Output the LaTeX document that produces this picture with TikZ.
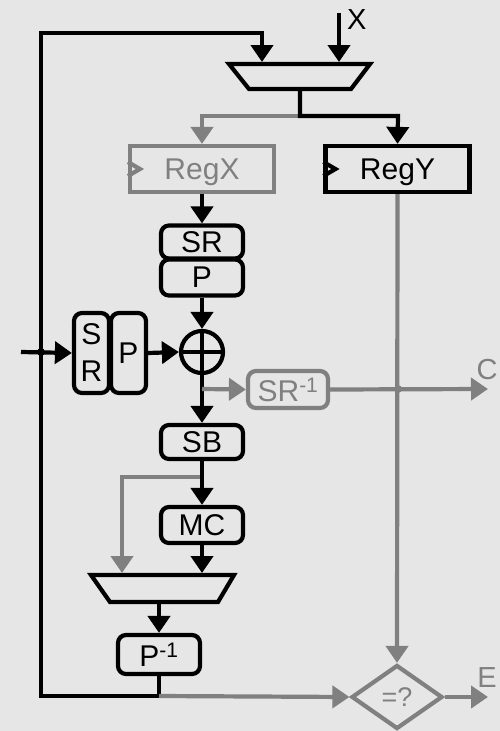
\documentclass[tikz,border=0pt]{standalone}
\usepackage{fontspec}
\setmainfont{Liberation Sans}
\usetikzlibrary{arrows.meta,shapes.geometric,calc}
\definecolor{bg}{HTML}{E6E6E6}
\definecolor{gr}{HTML}{808080}
\tikzset{
  wire/.style={line width=4.2pt},
  arr/.style={wire,-{Triangle[length=17pt 0 0,width=22pt 0 0]}},
  rbox/.style={draw,line width=4.2pt,rounded corners=8pt,fill=bg,inner sep=0pt,
    font=\fontsize{30}{37}\selectfont,align=center},
  reg/.style={draw,line width=4.2pt,fill=bg,inner sep=0pt,minimum width=144pt,minimum height=46pt,
    font=\fontsize{30}{35}\selectfont,text height=21pt,text depth=0pt},
  lbl/.style={font=\fontsize{29}{30}\selectfont,inner sep=0pt}
}
\begin{document}
\begin{tikzpicture}[x=1pt,y=-1pt]
\fill[bg] (0,0) rectangle (500,731);
\useasboundingbox (0,0) rectangle (500,731);

% multiplexers
\draw[wire,line join=miter] (229,64) -- (370,64) -- (351,89) -- (249,89) -- cycle;
\draw[wire,line join=miter] (91,575) -- (234,575) -- (218,602) -- (110,602) -- cycle;
\coordinate (m1a) at (262,62);
\coordinate (m1b) at (339,62);
\coordinate (m1o) at (300,89);
\coordinate (m2a) at (122,573);
\coordinate (m2b) at (202,573);
\coordinate (m2o) at (159,602);

% registers
\node[reg,draw=gr,text=gr] (regx) at (202,169) {RegX};
\node[reg] (regy) at (397.5,169) {RegY};
\draw[wire,gr,line join=miter] (regx.west) ++(0,-7) -- ++(12,7) -- ++(-12,7);
\draw[wire,line join=miter] (regy.west) ++(0,-7) -- ++(12,7) -- ++(-12,7);

% boxes
\node[rbox,minimum width=82pt,minimum height=33pt] (sr) at (202,242) {SR};
\node[rbox,minimum width=82pt,minimum height=36pt] (p) at (202,277.5) {P};
\node[rbox,minimum width=35pt,minimum height=80pt] (srl) at (91.5,353) {S\\R};
\node[rbox,minimum width=35pt,minimum height=80pt] (pl) at (128.5,353) {P};
\node[draw,circle,line width=4.2pt,minimum size=42pt,inner sep=0pt,fill=bg] (xor) at (202,352) {};
\draw[wire] (xor.north) -- (xor.south) (xor.west) -- (xor.east);
\node[rbox,draw=gr,text=gr,minimum width=80pt,minimum height=37pt] (srinv) at (288,389.5) {SR\textsuperscript{-1}};
\node[rbox,minimum width=82pt,minimum height=34pt] (sb) at (202,442) {SB};
\node[rbox,minimum width=82pt,minimum height=36pt] (mc) at (202,525) {MC};
\node[rbox,minimum width=82pt,minimum height=39pt] (pinv) at (159,654.5) {P\textsuperscript{-1}};
\node[draw=gr,diamond,line width=4.2pt,minimum width=91pt,minimum height=64pt,inner sep=0pt,
  text=gr,font=\fontsize{27}{28}\selectfont,fill=bg] (eq) at (397,697) {=?};

% input X
\coordinate (xin) at (339,13);
\draw[arr] (xin) -- (m1b);
\node[lbl,anchor=west] (xl) at (347,20) {X};

% feedback loop
\coordinate (lp) at (159,696);
\draw[wire,line join=miter] (pinv.south) -- (lp) -- (41,696) -- (41,33) -- (262,33) -- (262,45);
\draw[arr] (262,33) -- (m1a);

% mux1 outputs
\coordinate (sp1) at (300,116);
\draw[arr,gr] (sp1) -- (202,116) -- (regx.north);
\draw[arr,line join=miter] (m1o) -- (sp1) -- (398,116) -- (regy.north);

% main datapath
\draw[arr] (regx.south) -- (sr.north);
\draw[arr] (p.south) -- (xor.north);
\draw[arr] (xor.south) -- (sb.north);
\coordinate (in) at (21,352);
\draw[arr] (in) -- (srl.west);
\fill (41,352) circle (4pt);
\draw[arr] (pl.east) -- (xor.west);

% SR^-1 branch
\coordinate (b1) at (202,389);
\coordinate (cout) at (488,389);
\draw[arr,gr] (b1) -- (srinv.west);
\draw[arr,gr] (srinv.east) -- (cout);
\fill[gr] (398,389) circle (4pt);
\node[lbl,text=gr,anchor=south] (cl) at (487,380) {C};

% SB / MC
\coordinate (b2) at (202,477);
\draw[arr,gr,line join=miter] (b2) -- (122,477) -- (m2a);
\draw[arr] (sb.south) -- (mc.north);
\draw[arr] (mc.south) -- (m2b);
\draw[arr] (m2o) -- (pinv.north);

% comparison
\draw[arr,gr] (lp) -- (eq.west);
\draw[arr,gr] (regy.south) -- (eq.north);
\coordinate (eout) at (488,697);
\draw[arr,gr] (eq.east) -- (eout);
\node[lbl,text=gr,anchor=south] (el) at (487,688) {E};
\end{tikzpicture}
\end{document}
